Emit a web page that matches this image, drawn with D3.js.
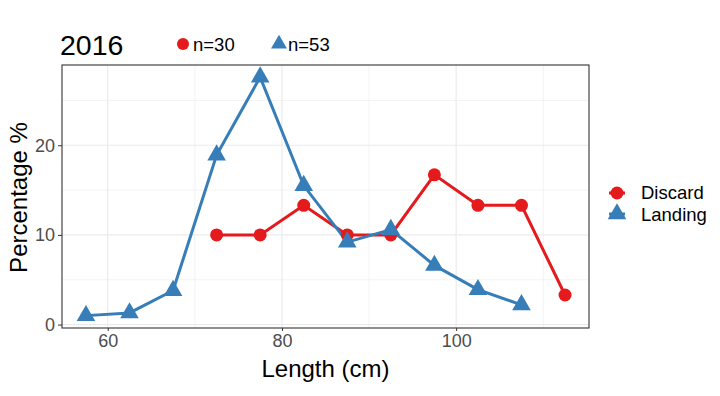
<!DOCTYPE html>
<html>
<head>
<meta charset="utf-8">
<script src="https://cdn.jsdelivr.net/npm/d3@7"></script>
<style>
  body { margin: 0; background: #fff; }
  text { font-family: Arial, "Liberation Sans", sans-serif; }
</style>
</head>
<body>
<div id="chart"></div>
<script>
// data
var lengths = [57.5, 62.5, 67.5, 72.5, 77.5, 82.5, 87.5, 92.5, 97.5, 102.5, 107.5, 112.5];
var landingPct = [1.0, 1.3, 3.8, 18.9, 27.6, 15.5, 9.2, 10.6, 6.6, 3.9, 2.2, null];
var discardPct = [null, null, null, 10.0, 10.0, 13.3, 10.0, 10.0, 16.7, 13.3, 13.3, 3.3];
var xTicks = [60, 80, 100];
var xMinor = [70, 90, 110];
var yTicks = [0, 10, 20];
var yMinor = [5, 15, 25];
var seriesNames = ['Discard', 'Landing'];
var sampleSizes = ['n=30', 'n=53'];

var W = 720, H = 396;
var margin = { top: 65, right: 131, bottom: 68, left: 62 };
var width = W - margin.left - margin.right;
var height = H - margin.top - margin.bottom;

var red = '#E41A1C', blue = '#377EB8';

var x = d3.scaleLinear().domain([54.75, 115.25]).range([0, width]);
var y = d3.scaleLinear().domain([-0.38, 28.95]).range([height, 0]);

var svg = d3.select('#chart').append('svg')
    .attr('width', W).attr('height', H);
var g = svg.append('g')
    .attr('transform', 'translate(' + margin.left + ',' + margin.top + ')');

// grid
g.selectAll('.vmin').data(xMinor).enter().append('line')
    .attr('x1', x).attr('x2', x).attr('y1', 0).attr('y2', height)
    .attr('stroke', '#EBEBEB').attr('stroke-width', 0.6);
g.selectAll('.hmin').data(yMinor).enter().append('line')
    .attr('y1', y).attr('y2', y).attr('x1', 0).attr('x2', width)
    .attr('stroke', '#EBEBEB').attr('stroke-width', 0.6);
g.selectAll('.vmaj').data(xTicks).enter().append('line')
    .attr('x1', x).attr('x2', x).attr('y1', 0).attr('y2', height)
    .attr('stroke', '#EBEBEB').attr('stroke-width', 1.2);
g.selectAll('.hmaj').data(yTicks).enter().append('line')
    .attr('y1', y).attr('y2', y).attr('x1', 0).attr('x2', width)
    .attr('stroke', '#EBEBEB').attr('stroke-width', 1.2);

// lines
var pts = function(vals) {
    return lengths.map(function(l, i) { return { x: l, y: vals[i] }; })
        .filter(function(d) { return d.y != null; });
};
var line = d3.line().x(function(d) { return x(d.x); }).y(function(d) { return y(d.y); });

var landing = pts(landingPct), discard = pts(discardPct);

g.append('path').datum(discard).attr('d', line)
    .attr('fill', 'none').attr('stroke', red).attr('stroke-width', 3);
g.append('path').datum(landing).attr('d', line)
    .attr('fill', 'none').attr('stroke', blue).attr('stroke-width', 3);

var tri = d3.symbol().type(d3.symbolTriangle).size(150);

g.selectAll('.dot').data(discard).enter().append('circle')
    .attr('cx', function(d) { return x(d.x); })
    .attr('cy', function(d) { return y(d.y); })
    .attr('r', 6.5).attr('fill', red);
g.selectAll('.tri').data(landing).enter().append('path')
    .attr('d', tri)
    .attr('transform', function(d) { return 'translate(' + x(d.x) + ',' + y(d.y) + ')'; })
    .attr('fill', blue);

// panel border
g.append('rect').attr('width', width).attr('height', height)
    .attr('fill', 'none').attr('stroke', '#333').attr('stroke-width', 1.1);

// axes
var xAxis = g.append('g').attr('transform', 'translate(0,' + height + ')')
    .call(d3.axisBottom(x).tickValues(xTicks).tickSize(3).tickPadding(3));
var yAxis = g.append('g')
    .call(d3.axisLeft(y).tickValues(yTicks).tickSize(4).tickPadding(3));
[xAxis, yAxis].forEach(function(a) {
    a.select('.domain').remove();
    a.selectAll('line').attr('stroke', '#333');
    a.selectAll('text').attr('fill', '#4D4D4D').style('font-size', '18px')
        .style('font-family', 'Arial, "Liberation Sans", sans-serif');
});

// titles
svg.append('text').attr('x', margin.left + width / 2).attr('y', 377)
    .attr('text-anchor', 'middle').style('font-size', '24px').text('Length (cm)');
svg.append('text')
    .attr('transform', 'translate(27,' + (margin.top + height / 2 + 1) + ') rotate(-90)')
    .attr('text-anchor', 'middle').style('font-size', '24px').text('Percentage %');
svg.append('text').attr('x', 60).attr('y', 55)
    .style('font-size', '28.5px').text('2016');

// top legend (sample sizes)
svg.append('circle').attr('cx', 183).attr('cy', 44).attr('r', 6).attr('fill', red);
svg.append('text').attr('x', 193).attr('y', 51).style('font-size', '18.5px').text(sampleSizes[0]);
svg.append('path').attr('d', d3.symbol().type(d3.symbolTriangle).size(110))
    .attr('transform', 'translate(279,44)').attr('fill', blue);
svg.append('text').attr('x', 288).attr('y', 51).style('font-size', '18.5px').text(sampleSizes[1]);

// right legend
var leg = svg.append('g').attr('transform', 'translate(617,193)');
leg.append('line').attr('x1', -8).attr('x2', 8).attr('y1', 0).attr('y2', 0)
    .attr('stroke', red).attr('stroke-width', 3);
leg.append('circle').attr('r', 6.5).attr('fill', red);
leg.append('line').attr('x1', -8).attr('x2', 8).attr('y1', 21).attr('y2', 21)
    .attr('stroke', blue).attr('stroke-width', 3);
leg.append('path').attr('d', tri).attr('transform', 'translate(0,21)').attr('fill', blue);
leg.selectAll('.lt').data(seriesNames).enter().append('text')
    .attr('x', 24).attr('y', function(d, i) { return i * 22 + 6; })
    .style('font-size', '18.5px').text(function(d) { return d; });
</script>
</body>
</html>
